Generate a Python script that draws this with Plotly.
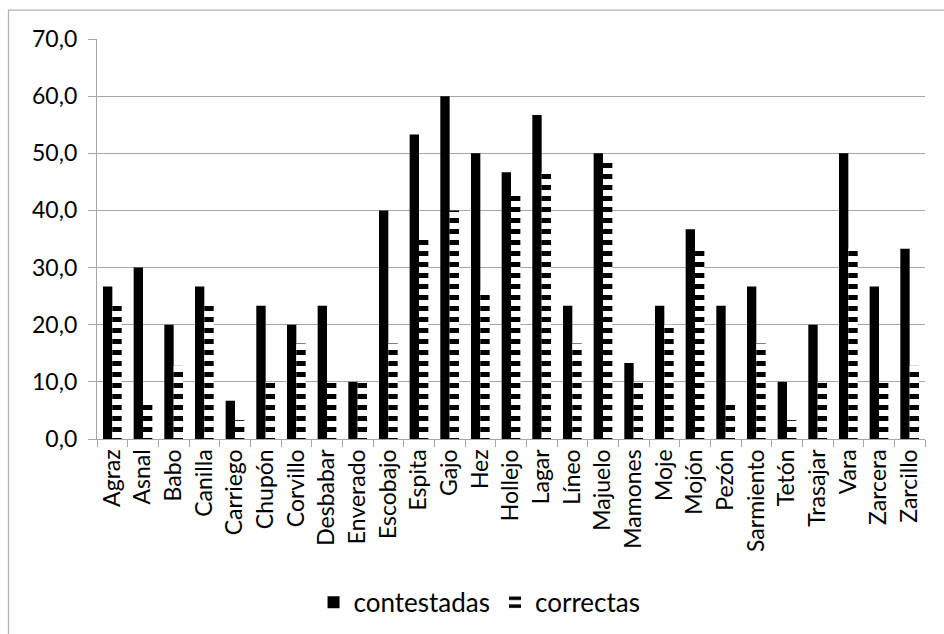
import plotly.graph_objects as go

categorias = ["Agraz", "Asnal", "Babo", "Canilla", "Carriego", "Chupón", "Corvillo",
              "Desbabar", "Enverado", "Escobajo", "Espita", "Gajo", "Hez", "Hollejo",
              "Lagar", "Líneo", "Majuelo", "Mamones", "Moje", "Mojón", "Pezón",
              "Sarmiento", "Tetón", "Trasajar", "Vara", "Zarcera", "Zarcillo"]

contestadas = [26.7, 30.0, 20.0, 26.7, 6.7, 23.3, 20.0, 23.3, 10.0, 40.0, 53.3, 60.0,
               50.0, 46.7, 56.7, 23.3, 50.0, 13.3, 23.3, 36.7, 23.3, 26.7, 10.0, 20.0,
               50.0, 26.7, 33.3]

correctas = [23.3, 6.7, 12.8, 23.3, 3.3, 10.0, 16.7, 10.0, 10.0, 16.7, 35.7, 40.0,
             26.0, 43.3, 46.7, 16.7, 49.0, 10.0, 20.0, 33.3, 6.7, 16.7, 3.3, 10.0,
             33.3, 10.0, 12.8]

y_ticks = [0, 10, 20, 30, 40, 50, 60, 70]

FONT = "Lato"
GRID = "#a6a6a6"

fig = go.Figure()
fig.add_trace(go.Bar(
    x=categorias, y=contestadas, name="contestadas",
    marker=dict(color="black", line=dict(width=0)),
))
fig.add_trace(go.Bar(
    x=categorias, y=correctas, name="correctas",
    marker=dict(color="black", line=dict(width=0),
                pattern=dict(shape="-", fgcolor="black", bgcolor="white",
                             fgopacity=1, size=11, solidity=0.45)),
))

fig.update_layout(
    width=944, height=634, autosize=False,
    margin=dict(l=97, r=19, t=39, b=194.5, autoexpand=False),
    paper_bgcolor="white", plot_bgcolor="white",
    barmode="group", bargap=0.39, bargroupgap=0,
    separators=",.",
    font=dict(family=FONT, color="black", size=22),
    showlegend=True,
    legend=dict(orientation="h", x=0.508, xanchor="center", y=0.05, yanchor="middle",
                xref="container", yref="container", font=dict(size=26, family=FONT),
                itemwidth=30, traceorder="normal", bgcolor="rgba(0,0,0,0)"),
    shapes=[dict(type="rect", xref="paper", yref="paper",
                 x0=-0.1069, x1=1.1, y0=-0.7, y1=1.0724,
                 line=dict(color="#b3b3b3", width=1.3), layer="below")],
)
fig.update_yaxes(range=[0, 70], tickvals=y_ticks, tickformat=".1f",
                 showgrid=True, gridcolor=GRID, gridwidth=1.3,
                 showline=True, linecolor=GRID, linewidth=1.3,
                 ticks="outside", ticklen=8, tickcolor=GRID, tickwidth=1.3,
                 tickfont=dict(size=23, family=FONT), zeroline=False,
                 ticklabelstandoff=6)
fig.update_xaxes(type="category", tickangle=-90, tickson="boundaries",
                 showgrid=False, showline=True, linecolor=GRID, linewidth=1.3,
                 ticks="outside", ticklen=7, tickcolor=GRID, tickwidth=1.3,
                 tickfont=dict(size=23, family=FONT), automargin=False)

fig.write_html("out.html")
